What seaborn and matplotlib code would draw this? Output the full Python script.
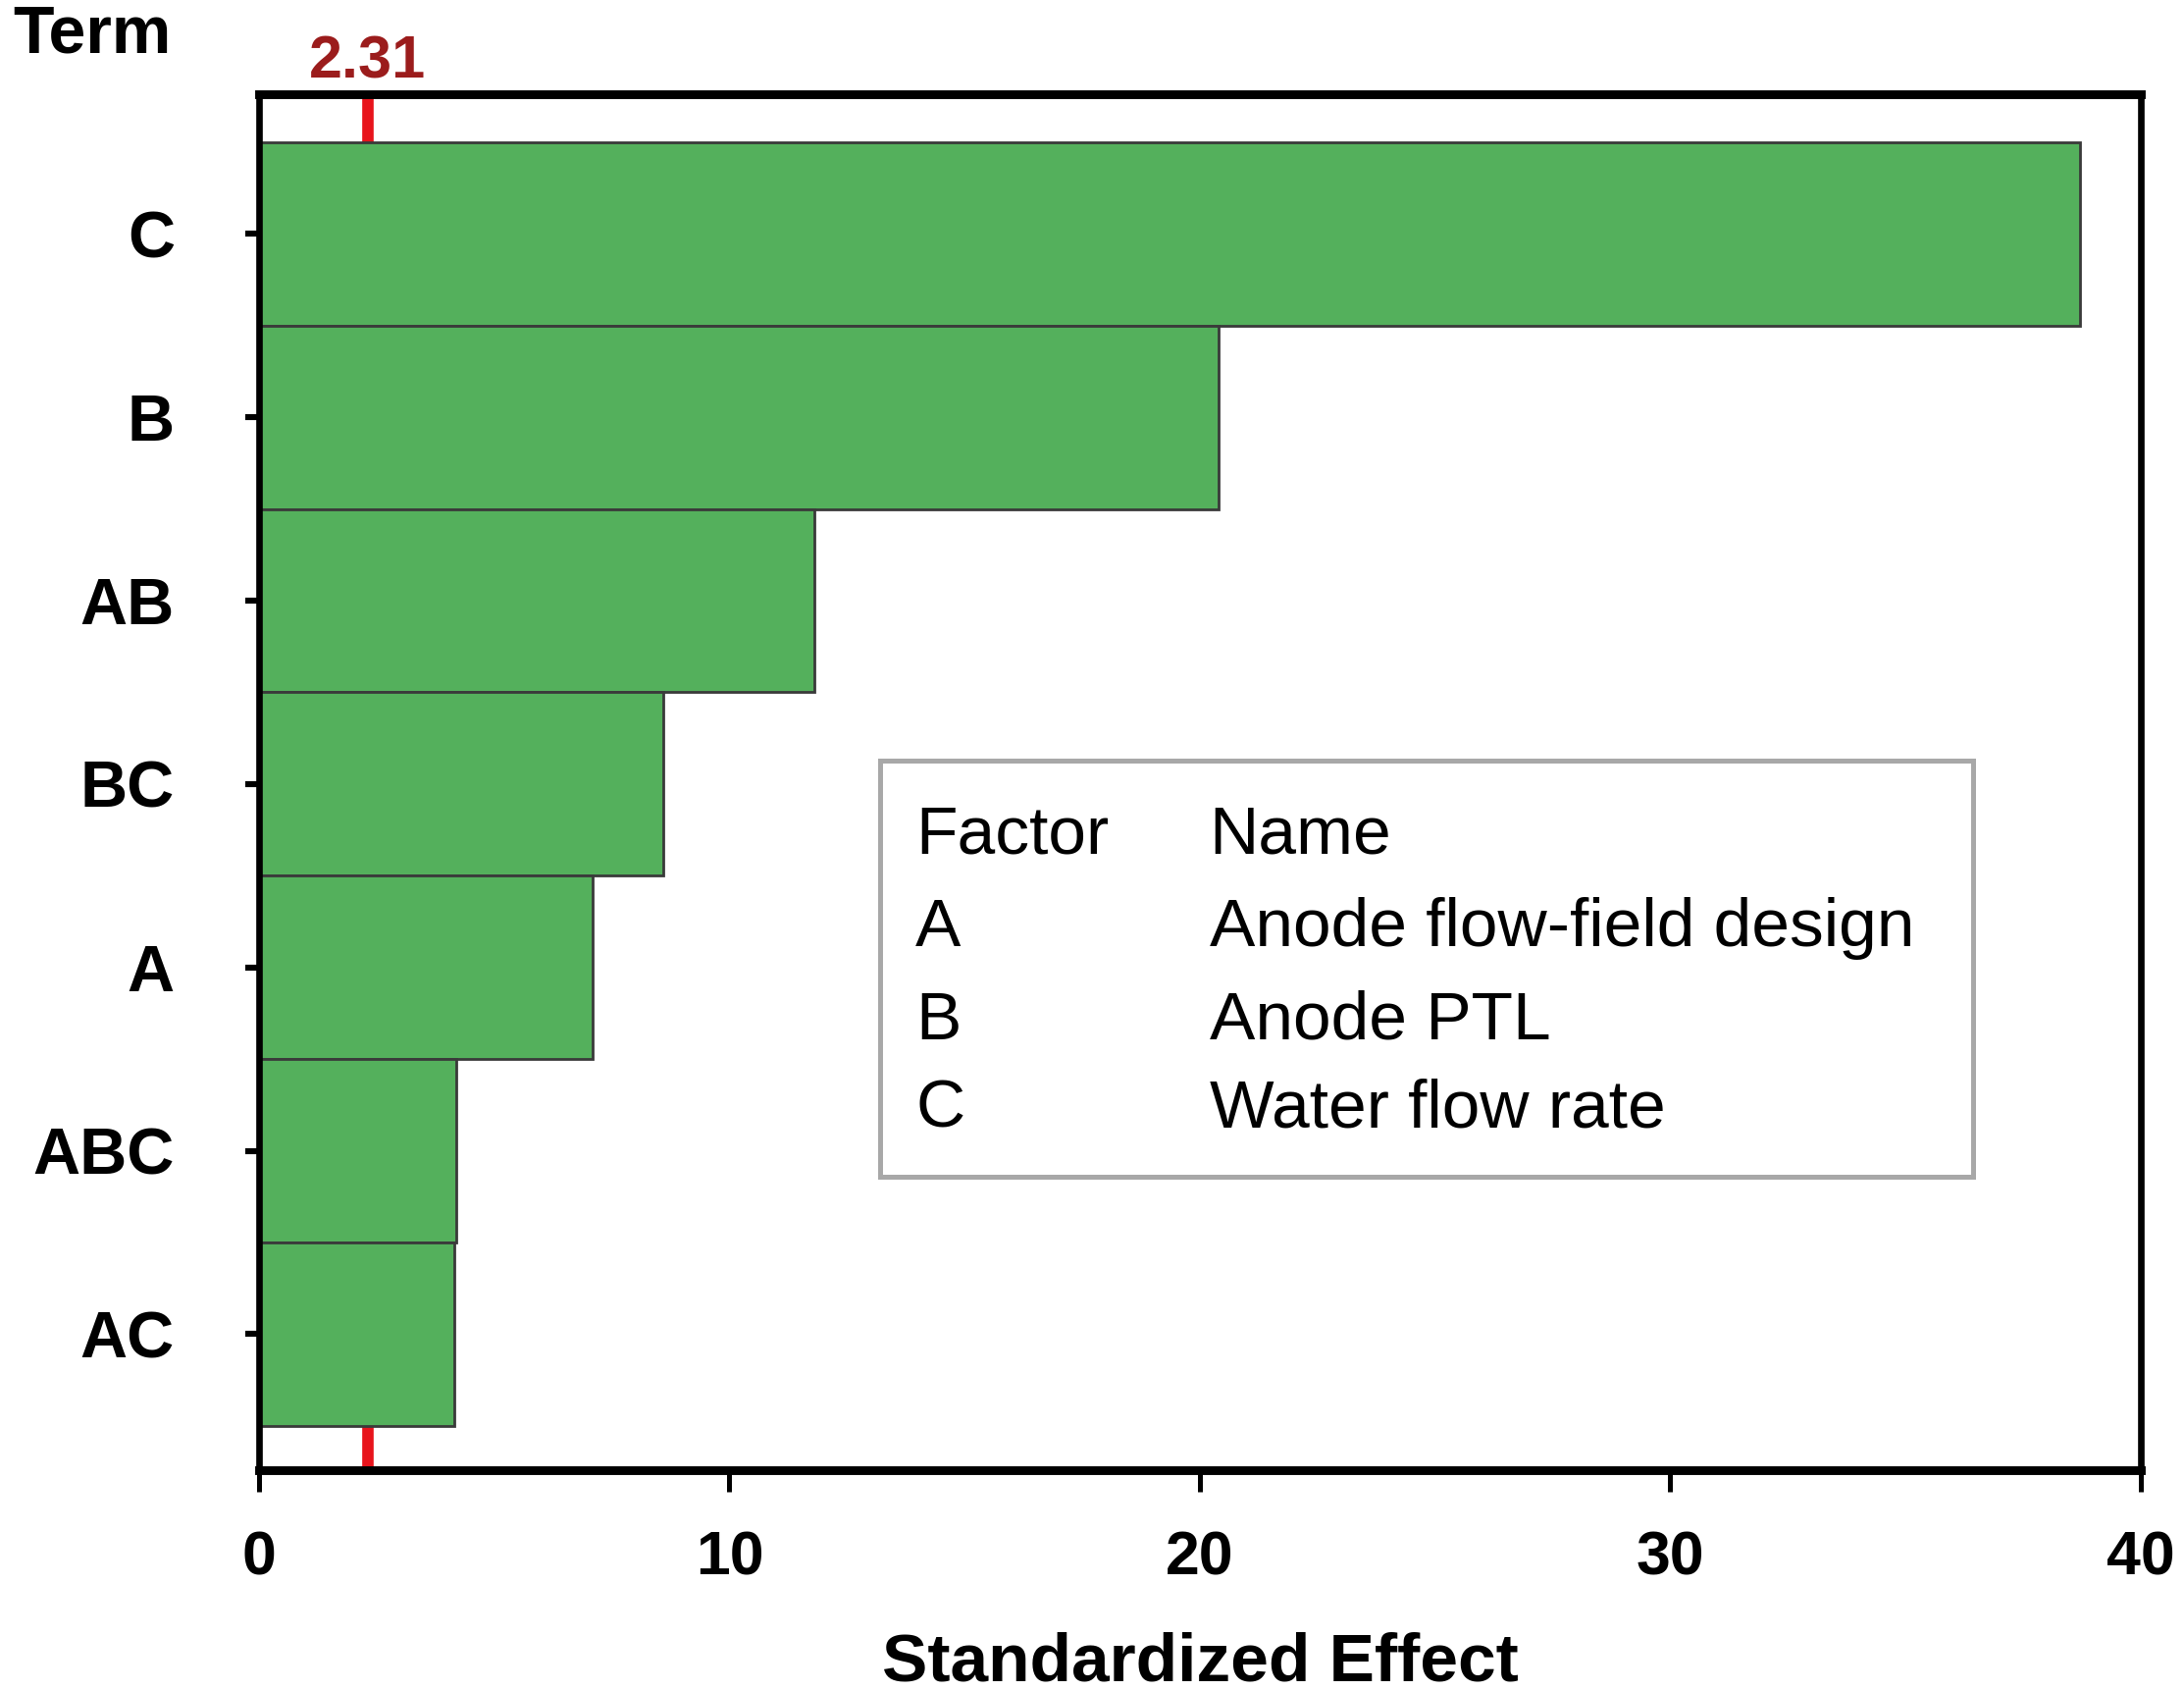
import matplotlib
matplotlib.use("Agg")
import matplotlib.pyplot as plt
import seaborn as sns
import pandas as pd
from matplotlib.patches import FancyBboxPatch

# ---- data ----
terms = ["C", "B", "AB", "BC", "A", "ABC", "AC"]
effects = [38.7, 20.4, 11.8, 8.6, 7.1, 4.2, 4.15]
threshold = 2.31
xticks = [0, 10, 20, 30, 40]
factors = ["A", "B", "C"]
factor_names = ["Anode flow-field design", "Anode PTL", "Water flow rate"]

sns.set_theme(style="white")
plt.rcParams["font.family"] = ["Liberation Sans", "DejaVu Sans"]
plt.rcParams["text.color"] = "black"
plt.rcParams["xtick.color"] = "black"
plt.rcParams["ytick.color"] = "black"
plt.rcParams["axes.labelcolor"] = "black"

fig = plt.figure(figsize=(11.13, 8.61), dpi=200)
ax = fig.add_axes([0.1186, 0.1303, 0.9802 - 0.1186, 0.944 - 0.1303])

df = pd.DataFrame({"term": terms, "effect": effects})
ax.axvline(threshold, color="#e8141c", lw=4.2, zorder=0.5)
sns.barplot(data=df, x="effect", y="term", orient="h", width=1.0,
            color="#54b05c", saturation=1, edgecolor="#3a3a3a", linewidth=1.0,
            ax=ax, zorder=2)

ax.set_xlim(0, 40)
ax.set_ylim(6.74, -0.76)
ax.set_xticks(xticks)
ax.set_xticklabels([str(t) for t in xticks], fontsize=22.5, fontweight="bold")
ax.set_yticks(range(len(terms)))
ax.set_yticklabels(terms, fontsize=24, fontweight="bold")
ax.tick_params(axis="y", direction="out", length=5, width=2.2, color="black",
               pad=26, left=True)
ax.tick_params(axis="x", direction="out", length=8, width=1.8, color="black",
               pad=14, bottom=True)
ax.set_ylabel("")
ax.set_xlabel("Standardized Effect", fontsize=25, fontweight="bold", labelpad=16)

for s in ["left", "right", "top", "bottom"]:
    ax.spines[s].set_visible(True)
    ax.spines[s].set_color("black")
ax.spines["bottom"].set_linewidth(3.2)
ax.spines["top"].set_linewidth(3.2)
ax.spines["left"].set_linewidth(2.4)
ax.spines["right"].set_linewidth(2.4)

# "Term" label and threshold label
fig.text(0.006, 0.998, "Term", fontsize=24.5, fontweight="bold", ha="left", va="top")
ax.text(threshold, 1.003, f"{threshold:.2f}", transform=ax.get_xaxis_transform(),
        color="#9b1c1c", fontsize=22, fontweight="bold", ha="center", va="bottom")

# factor legend box
box = FancyBboxPatch((0.330, 0.213), 0.911 - 0.330, 0.516 - 0.213,
                     boxstyle="square,pad=0", transform=ax.transAxes,
                     facecolor="white", edgecolor="#a8a8a8", lw=1.8, zorder=5)
ax.add_patch(box)
rows_y = [0.461, 0.394, 0.326, 0.262]
ax.text(0.349, rows_y[0], "Factor", transform=ax.transAxes, fontsize=25,
        va="center", ha="left", zorder=6)
ax.text(0.505, rows_y[0], "Name", transform=ax.transAxes, fontsize=25,
        va="center", ha="left", zorder=6)
for f, n, yy in zip(factors, factor_names, rows_y[1:]):
    ax.text(0.349, yy, f, transform=ax.transAxes, fontsize=25,
            va="center", ha="left", zorder=6)
    ax.text(0.505, yy, n, transform=ax.transAxes, fontsize=25,
            va="center", ha="left", zorder=6)

fig.savefig("out.png", dpi=200, facecolor="white")
